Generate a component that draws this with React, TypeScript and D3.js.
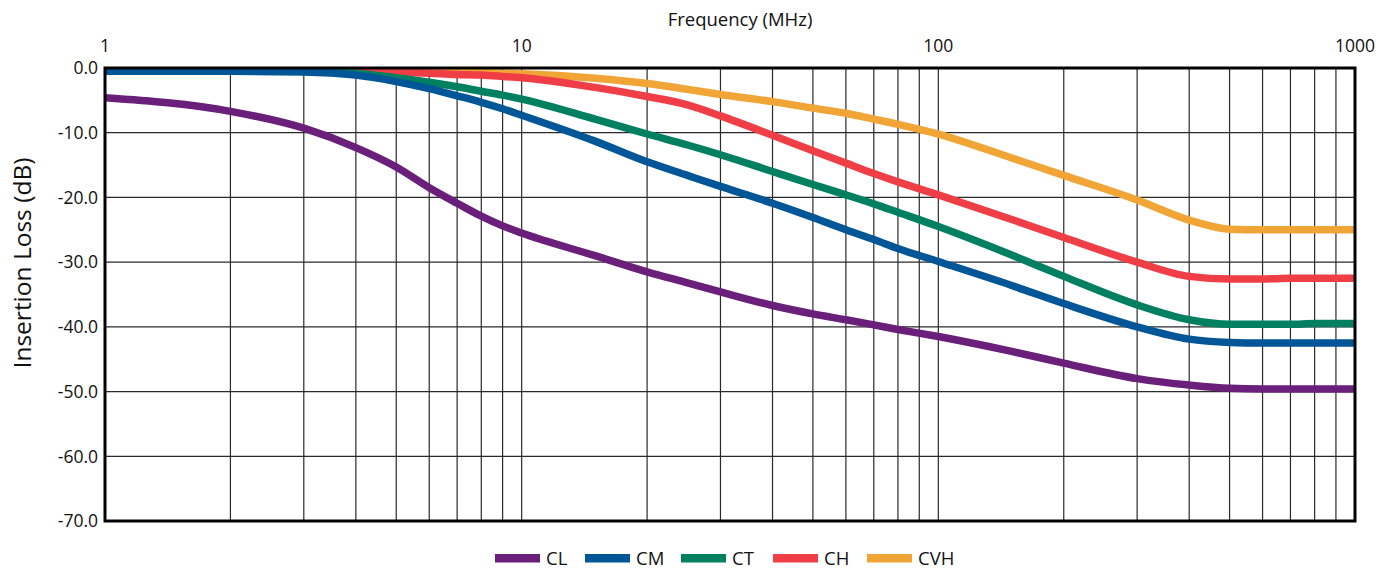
import React from "react";
import * as d3 from "d3";

const freqs = [1, 2, 3, 4, 5, 6, 7, 8, 9, 10, 15, 20, 25, 30, 40, 50, 60, 70, 80, 100, 150, 200, 300, 400, 500, 600, 700, 800, 1000];

const CL = [-4.6, -6.7, -9.3, -12.3, -15.3, -18.5, -20.9, -22.9, -24.4, -25.5, -29.0, -31.5, -33.2, -34.6, -36.7, -38.0, -38.9, -39.7, -40.4, -41.5, -43.8, -45.6, -48.0, -49.0, -49.5, -49.6, -49.6, -49.6, -49.6];
const CM = [-0.5, -0.5, -0.6, -1.1, -2.1, -3.2, -4.3, -5.3, -6.3, -7.3, -11.3, -14.5, -16.6, -18.3, -20.9, -23.1, -25.0, -26.5, -27.9, -29.9, -33.6, -36.4, -40.0, -41.9, -42.4, -42.5, -42.5, -42.5, -42.5];
const CT = [-0.4, -0.4, -0.5, -0.8, -1.5, -2.2, -2.9, -3.6, -4.2, -4.8, -7.9, -10.2, -11.9, -13.4, -16.0, -18.0, -19.6, -21.0, -22.3, -24.5, -28.9, -32.2, -36.6, -38.9, -39.6, -39.6, -39.6, -39.5, -39.5];
const CH = [-0.3, -0.3, -0.3, -0.4, -0.6, -0.8, -1.0, -1.1, -1.3, -1.5, -3.0, -4.4, -5.7, -7.4, -10.4, -12.8, -14.7, -16.3, -17.6, -19.6, -23.4, -26.2, -30.0, -32.2, -32.6, -32.6, -32.5, -32.5, -32.5];
const CVH = [-0.2, -0.2, -0.2, -0.3, -0.4, -0.5, -0.6, -0.7, -0.8, -0.9, -1.6, -2.4, -3.3, -4.1, -5.2, -6.2, -7.0, -7.9, -8.7, -10.2, -13.9, -16.6, -20.4, -23.5, -24.9, -25.0, -25.0, -25.0, -25.0];

const seriesNames = ["CL", "CM", "CT", "CH", "CVH"];
const seriesValues = [CL, CM, CT, CH, CVH];
const seriesColors = ["#6a1f7a", "#005696", "#008060", "#ef3e46", "#f0a536"];

const xTickLabels = [1, 10, 100, 1000];
const yTicks = [0, -10, -20, -30, -40, -50, -60, -70];

const W = 1392;
const H = 571;
const L = 105, R = 1355, T = 68, B = 521;
const FONT = "'Open Sans', 'Noto Sans', sans-serif";

export default function App() {
  const x = d3.scaleLog().domain([1, 1000]).range([L, R]);
  const y = d3.scaleLinear().domain([0, -70]).range([T, B]);

  const minor: number[] = [];
  for (const dec of [1, 10, 100]) {
    for (let k = 2; k <= 9; k++) minor.push(dec * k);
  }
  minor.push(10, 100);

  const line = d3
    .line<[number, number]>()
    .x((d) => x(d[0]))
    .y((d) => y(d[1]))
    .curve(d3.curveMonotoneX);

  const order = [4, 3, 2, 1, 0];
  const legendX = [495, 585, 681, 773, 867];

  return (
    <svg width={W} height={H} style={{ position: "absolute", left: 0, top: 0, background: "#fff" }}>
      <defs>
        <clipPath id="plotclip">
          <rect x={L} y={T} width={R - L} height={B - T} />
        </clipPath>
      </defs>
      {yTicks.map((t) => (
        <line key={"h" + t} x1={L} x2={R} y1={y(t)} y2={y(t)} stroke="#2a2a2a" strokeWidth={1.2} />
      ))}
      {minor.map((f) => (
        <line key={"v" + f} x1={x(f)} x2={x(f)} y1={T} y2={B} stroke="#2a2a2a" strokeWidth={1.2} />
      ))}
      <g clipPath="url(#plotclip)">
        {order.map((i) => (
          <path
            key={seriesNames[i]}
            d={line(freqs.map((f, j) => [f, seriesValues[i][j]] as [number, number])) || ""}
            fill="none"
            stroke={seriesColors[i]}
            strokeWidth={7.5}
            strokeLinejoin="round"
          />
        ))}
      </g>
      <rect x={L} y={T} width={R - L} height={B - T} fill="none" stroke="#000" strokeWidth={3} />
      {yTicks.map((t) => (
        <text
          key={"yl" + t}
          x={L - 7}
          y={y(t)}
          dy="0.36em"
          textAnchor="end"
          fontFamily={FONT}
          fontSize={17.5}
          fill="#111"
        >
          {t.toFixed(1)}
        </text>
      ))}
      {xTickLabels.map((f) => (
        <text
          key={"xl" + f}
          x={x(f)}
          y={52}
          textAnchor="middle"
          fontFamily={FONT}
          fontSize={17.5}
          fill="#111"
        >
          {f}
        </text>
      ))}
      <text x={740} y={26} textAnchor="middle" fontFamily={FONT} fontSize={18.5} fill="#111">
        Frequency (MHz)
      </text>
      <text
        transform={`translate(31, 263) rotate(-90)`}
        textAnchor="middle"
        fontFamily={FONT}
        fontSize={24.5}
        fill="#111"
      >
        Insertion Loss (dB)
      </text>
      {seriesNames.map((n, i) => (
        <g key={"lg" + n}>
          <rect x={legendX[i]} y={554} width={45} height={8.5} fill={seriesColors[i]} />
          <text x={legendX[i] + 51} y={565} fontFamily={FONT} fontSize={18.5} fill="#111">
            {n}
          </text>
        </g>
      ))}
    </svg>
  );
}
